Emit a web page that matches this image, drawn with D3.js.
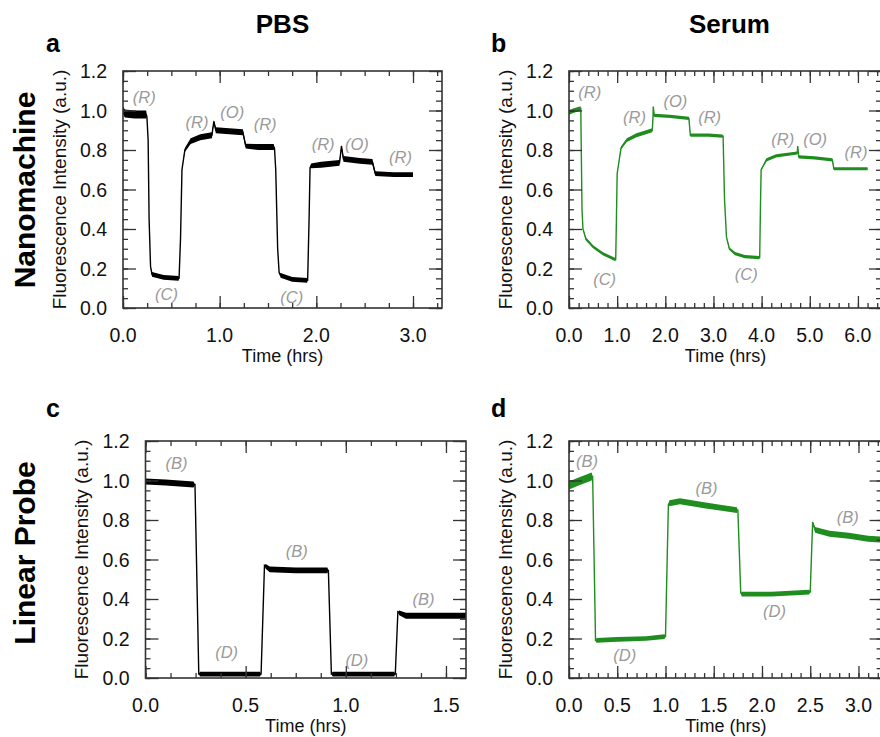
<!DOCTYPE html>
<html>
<head>
<meta charset="utf-8">
<script src="https://cdn.jsdelivr.net/npm/d3@7"></script>
<style>
  body { margin: 0; background: #fff; }
  svg text { font-family: "Liberation Sans", Arial, sans-serif; }
</style>
</head>
<body>
<svg id="fig" width="880" height="737"></svg>
<script>
// ---- data: [time (hrs), intensity, noise half-width] ----
const traceA = [
  [0.00, 1.00, .02], [0.02, 0.985, .02], [0.12, 0.98, .02], [0.24, 0.98, .02], [0.247, 0.97, 0],
  [0.26, 0.85, 0], [0.27, 0.45, 0], [0.285, 0.21, 0], [0.30, 0.17, .012], [0.42, 0.155, .012],
  [0.575, 0.15, .012], [0.58, 0.15, 0], [0.595, 0.35, 0], [0.61, 0.70, 0], [0.64, 0.80, .01],
  [0.70, 0.845, .015], [0.80, 0.865, .015], [0.92, 0.875, .015], [0.94, 0.945, .006],
  [0.96, 0.90, .015], [1.10, 0.895, .015], [1.24, 0.89, .015], [1.27, 0.82, .012],
  [1.40, 0.815, .015], [1.56, 0.815, .015], [1.567, 0.81, 0], [1.58, 0.70, 0], [1.60, 0.30, 0],
  [1.615, 0.18, 0], [1.63, 0.165, .012], [1.75, 0.145, .012], [1.905, 0.14, .012],
  [1.91, 0.14, 0], [1.925, 0.45, 0], [1.935, 0.71, 0], [1.945, 0.72, .012], [2.05, 0.725, .015],
  [2.24, 0.735, .015], [2.26, 0.82, .006], [2.28, 0.755, .015], [2.45, 0.745, .015],
  [2.58, 0.74, .015], [2.61, 0.68, .012], [2.80, 0.675, .012], [3.00, 0.675, .012]
];
const traceB = [
  [0.00, 0.99, .012], [0.10, 1.00, .012], [0.24, 1.01, .012], [0.245, 1.01, 0], [0.255, 0.80, 0],
  [0.27, 0.50, 0], [0.29, 0.40, .004], [0.35, 0.35, .008], [0.50, 0.31, .008], [0.70, 0.275, .008],
  [0.965, 0.245, .008], [0.97, 0.245, 0], [0.985, 0.45, 0], [1.00, 0.68, 0], [1.08, 0.81, .008],
  [1.20, 0.85, .01], [1.40, 0.875, .01], [1.60, 0.89, .01], [1.73, 0.90, .01], [1.745, 0.97, .006],
  [1.75, 1.02, 0], [1.77, 0.975, .008], [2.10, 0.97, .008], [2.49, 0.96, .008], [2.52, 0.875, .008],
  [2.90, 0.875, .008], [3.19, 0.87, .008], [3.20, 0.87, 0], [3.23, 0.55, 0], [3.27, 0.36, 0],
  [3.33, 0.30, .006], [3.45, 0.275, .008], [3.65, 0.26, .008], [3.955, 0.255, .008],
  [3.96, 0.255, 0], [3.975, 0.50, 0], [3.99, 0.70, .004], [4.10, 0.75, .008], [4.30, 0.77, .008],
  [4.74, 0.785, .008], [4.75, 0.82, 0], [4.77, 0.765, .008], [5.10, 0.76, .008], [5.47, 0.75, .008],
  [5.50, 0.705, .008], [5.80, 0.705, .008], [6.20, 0.705, .008]
];
const traceC = [
  [0.00, 0.995, .015], [0.10, 0.99, .015], [0.24, 0.98, .015], [0.247, 0.98, 0], [0.266, 0.02, 0],
  [0.272, 0.02, .012], [0.40, 0.02, .012], [0.572, 0.02, .012], [0.577, 0.02, 0], [0.594, 0.57, 0],
  [0.60, 0.565, .012], [0.62, 0.55, .015], [0.75, 0.545, .015], [0.908, 0.545, .015],
  [0.913, 0.545, 0], [0.928, 0.02, 0], [0.934, 0.02, .012], [1.10, 0.02, .012], [1.242, 0.02, .012],
  [1.247, 0.02, 0], [1.26, 0.335, 0], [1.267, 0.33, .012], [1.30, 0.315, .015], [1.45, 0.315, .015],
  [1.60, 0.315, .015]
];
const traceD = [
  [0.00, 0.975, .02], [0.10, 0.995, .02], [0.235, 1.02, .02], [0.245, 1.02, 0], [0.275, 0.19, 0],
  [0.285, 0.19, .012], [0.50, 0.195, .012], [0.80, 0.20, .012], [0.99, 0.21, .012], [1.00, 0.21, 0],
  [1.03, 0.88, 0], [1.04, 0.885, .015], [1.15, 0.895, .015], [1.40, 0.875, .015], [1.60, 0.86, .015],
  [1.74, 0.85, .015], [1.75, 0.85, 0], [1.78, 0.43, 0], [1.79, 0.425, .012], [2.10, 0.425, .012],
  [2.49, 0.435, .012], [2.50, 0.435, 0], [2.525, 0.79, 0], [2.55, 0.75, .015], [2.70, 0.73, .015],
  [2.90, 0.72, .015], [3.10, 0.705, .015], [3.25, 0.70, .015]
];

// annotations: [time, intensity (baseline), text]
const notesA = [[0.22, 1.04, "(R)"], [0.45, 0.04, "(C)"], [0.765, 0.91, "(R)"], [1.13, 0.96, "(O)"],
  [1.47, 0.90, "(R)"], [1.745, 0.024, "(C)"], [2.07, 0.80, "(R)"], [2.42, 0.80, "(O)"], [2.87, 0.733, "(R)"]];
const notesB = [[0.43, 1.062, "(R)"], [0.74, 0.116, "(C)"], [1.36, 0.935, "(R)"], [2.21, 1.02, "(O)"],
  [2.92, 0.935, "(R)"], [3.68, 0.142, "(C)"], [4.44, 0.825, "(R)"], [5.11, 0.825, "(O)"], [5.96, 0.758, "(R)"]];
const notesC = [[0.155, 1.06, "(B)"], [0.405, 0.10, "(D)"], [0.755, 0.614, "(B)"], [1.055, 0.059, "(D)"], [1.388, 0.37, "(B)"]];
const notesD = [[0.187, 1.069, "(B)"], [0.577, 0.084, "(D)"], [1.424, 0.934, "(B)"], [2.13, 0.311, "(D)"], [2.89, 0.783, "(B)"]];

// tick values
const yTicks = [0, 0.2, 0.4, 0.6, 0.8, 1.0, 1.2];
const xTicksA = [0, 1, 2, 3];
const xTicksB = [0, 1, 2, 3, 4, 5, 6];
const xTicksC = [0, 0.5, 1.0, 1.5];
const xTicksD = [0, 0.5, 1.0, 1.5, 2.0, 2.5, 3.0];

const colTitles = ["PBS", "Serum"];
const rowTitles = ["Nanomachine", "Linear Probe"];

const svg = d3.select("#fig");
const FRAME = "#333";
const GREEN = "#1f8d1f";
const NOTE = "#9a9a9a";

/**
 * Draw one panel: frame, mirrored inward ticks, trace band and labels
 */
function drawPanel(cfg)
{
  const x = d3.scaleLinear().domain([0, cfg.xMax]).range([cfg.left, cfg.left + cfg.width]);
  const y = d3.scaleLinear().domain([0, 1.2]).range([cfg.top + cfg.height, cfg.top]);
  const g = svg.append("g");

  const clipId = "clip" + cfg.letter;
  g.append("clipPath").attr("id", clipId).append("rect")
    .attr("x", cfg.left).attr("y", cfg.top).attr("width", cfg.width).attr("height", cfg.height);

  // Trace: noise band + centre line
  const band = d3.area().x(d => x(d[0])).y0(d => y(d[1] - d[2])).y1(d => y(d[1] + d[2]));
  const line = d3.line().x(d => x(d[0])).y(d => y(d[1]));
  const tg = g.append("g").attr("clip-path", `url(#${clipId})`);
  tg.append("path").datum(cfg.data).attr("d", band).attr("fill", cfg.color);
  tg.append("path").datum(cfg.data).attr("d", line)
    .attr("fill", "none").attr("stroke", cfg.color).attr("stroke-width", 1.4);

  // Minor tick values
  const xMinor = d3.range(0, cfg.xMax + 1e-9, cfg.xMinor);
  const yMinor = d3.range(0, 1.2 + 1e-9, 0.05);

  const axis = (gen, scale, vals, len, tr) => g.append("g").attr("transform", tr)
    .call(gen(scale).tickValues(vals).tickSize(len).tickFormat(""))
    .call(s => s.select(".domain").remove())
    .call(s => s.selectAll("line").attr("stroke", FRAME).attr("stroke-width", 1.3));

  const bottom = `translate(0,${cfg.top + cfg.height})`;
  const top = `translate(0,${cfg.top})`;
  const left = `translate(${cfg.left},0)`;
  const right = `translate(${cfg.left + cfg.width},0)`;

  axis(d3.axisBottom, x, xMinor, -5, bottom);
  axis(d3.axisBottom, x, cfg.xTicks, -12, bottom);
  axis(d3.axisTop, x, xMinor, -5, top);
  axis(d3.axisTop, x, cfg.xTicks, -12, top);
  axis(d3.axisLeft, y, yMinor, -5, left);
  axis(d3.axisLeft, y, yTicks, -13, left);
  axis(d3.axisRight, y, yMinor, -6, right);
  axis(d3.axisRight, y, yTicks, -13, right);

  // Frame
  g.append("rect").attr("x", cfg.left).attr("y", cfg.top)
    .attr("width", cfg.width).attr("height", cfg.height)
    .attr("fill", "none").attr("stroke", FRAME).attr("stroke-width", 1.6);

  // Tick labels
  g.selectAll(".xl").data(cfg.xTicks).enter().append("text")
    .attr("x", d => x(d)).attr("y", cfg.top + cfg.height + 34)
    .attr("text-anchor", "middle").attr("font-size", 19.5).attr("fill", "#111")
    .text(d3.format(".1f"));
  g.selectAll(".yl").data(yTicks).enter().append("text")
    .attr("x", cfg.left - 16).attr("y", d => y(d)).attr("dy", "0.36em")
    .attr("text-anchor", "end").attr("font-size", 19.5).attr("fill", "#111")
    .text(d3.format(".1f"));

  // Axis titles
  g.append("text").attr("x", cfg.left + cfg.width / 2).attr("y", cfg.top + cfg.height + 54)
    .attr("text-anchor", "middle").attr("font-size", 18).attr("fill", "#111").text("Time (hrs)");
  g.append("text")
    .attr("transform", `translate(${cfg.left - 64},${cfg.top + cfg.height / 2}) rotate(-90)`)
    .attr("text-anchor", "middle").attr("dy", "0.35em").attr("font-size", 19).attr("fill", "#111")
    .text("Fluorescence Intensity (a.u.)");

  // Annotations
  g.selectAll(".note").data(cfg.notes).enter().append("text")
    .attr("x", d => x(d[0])).attr("y", d => y(d[1]))
    .attr("text-anchor", "middle").attr("font-size", 16.5).attr("font-style", "italic")
    .attr("fill", NOTE).text(d => d[2]);

  // Panel letter
  g.append("text").attr("x", cfg.letterX).attr("y", cfg.letterY)
    .attr("font-size", 25).attr("font-weight", "bold").attr("fill", "#000").text(cfg.letter);
}

drawPanel({ letter: "a", letterX: 46, letterY: 52, left: 123, top: 71, width: 319, height: 237,
  xMax: 3.3, xTicks: xTicksA, xMinor: 0.25, data: traceA, notes: notesA, color: "#000" });
drawPanel({ letter: "b", letterX: 491, letterY: 52, left: 569, top: 71, width: 313, height: 237,
  xMax: 6.5, xTicks: xTicksB, xMinor: 0.2, data: traceB, notes: notesB, color: GREEN });
drawPanel({ letter: "c", letterX: 46, letterY: 417, left: 145.5, top: 441, width: 320.5, height: 237,
  xMax: 1.6, xTicks: xTicksC, xMinor: 0.125, data: traceC, notes: notesC, color: "#000" });
drawPanel({ letter: "d", letterX: 491, letterY: 417, left: 569, top: 441, width: 313.6, height: 237,
  xMax: 3.25, xTicks: xTicksD, xMinor: 0.1, data: traceD, notes: notesD, color: GREEN });

// Column and row headings
svg.selectAll(".col").data(colTitles).enter().append("text")
  .attr("x", (d, i) => [282.5, 729.5][i]).attr("y", 33)
  .attr("text-anchor", "middle").attr("font-size", 26).attr("font-weight", "bold").text(d => d);
svg.selectAll(".row").data(rowTitles).enter().append("text")
  .attr("transform", (d, i) => `translate(24,${[190, 553][i]}) rotate(-90)`)
  .attr("text-anchor", "middle").attr("dy", "0.35em")
  .attr("font-size", 30).attr("font-weight", "bold").text(d => d);
</script>
</body>
</html>
